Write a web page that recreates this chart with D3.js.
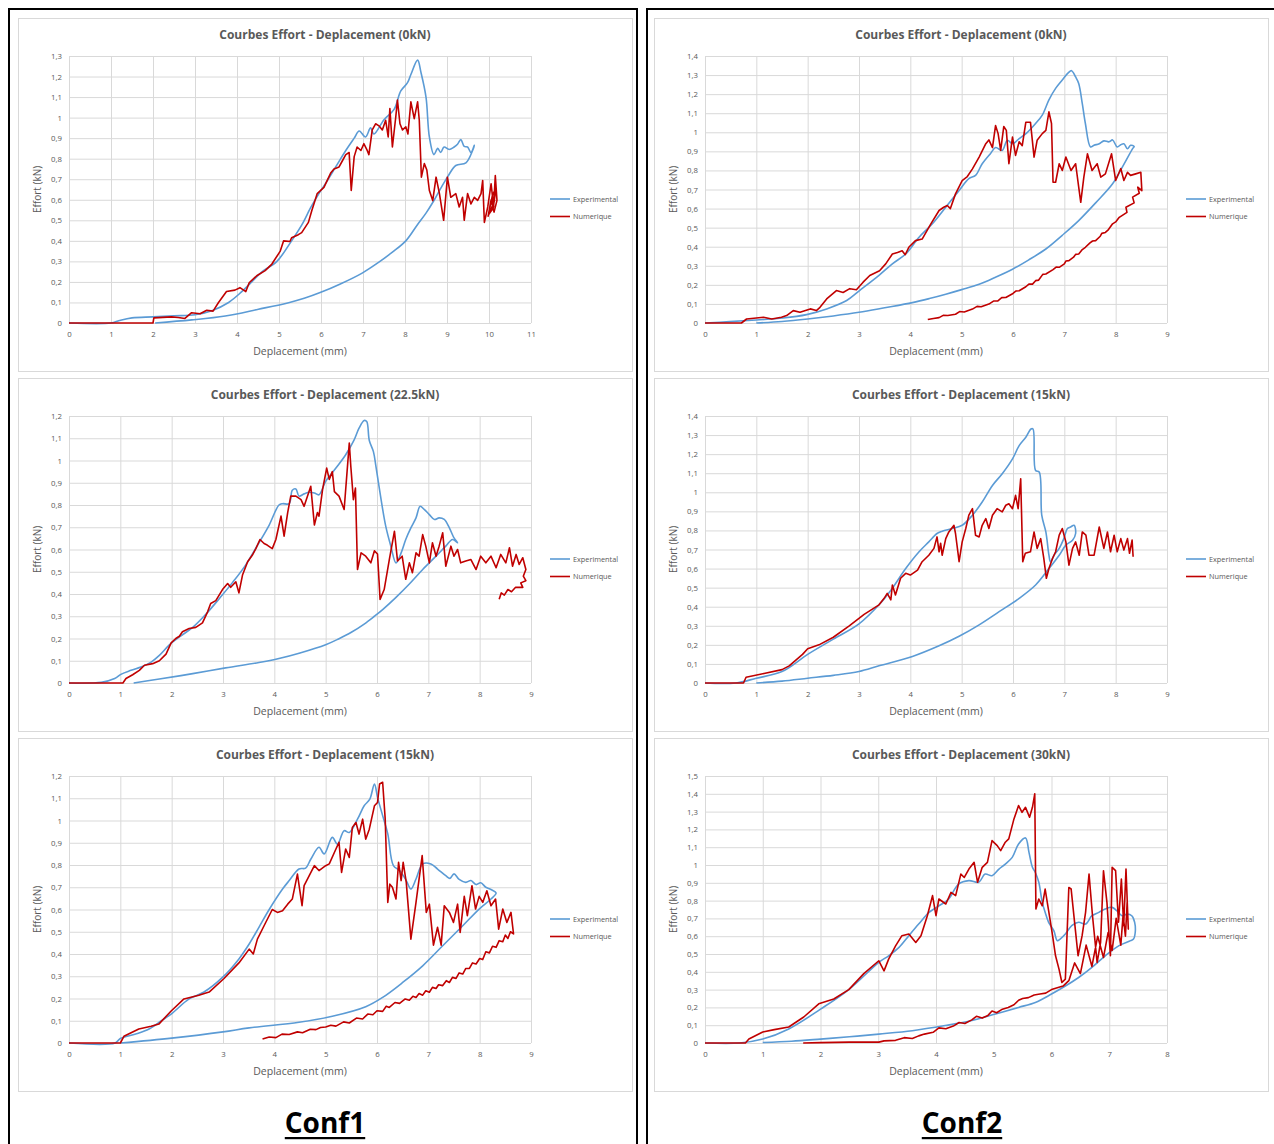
<!DOCTYPE html>
<html>
<head>
<meta charset="UTF-8">
<script src="https://d3js.org/d3.v7.min.js"></script>
<style>
  body { margin: 0; background: #fff; }
  text { font-family: "Open Sans", sans-serif; fill: #595959; }
</style>
</head>
<body>
<svg width="1274" height="1144"></svg>
<script>

// titles, axis ranges
var titles = [
  "Courbes Effort - Deplacement (0kN)",
  "Courbes Effort - Deplacement (22.5kN)",
  "Courbes Effort - Deplacement (15kN)",
  "Courbes Effort - Deplacement (0kN)",
  "Courbes Effort - Deplacement (15kN)",
  "Courbes Effort - Deplacement (30kN)"
];
var xMaxes = [11, 9, 9, 9, 9, 8];
var yMaxes = [1.3, 1.2, 1.2, 1.4, 1.4, 1.5];
var seriesNames = ["Experimental", "Numerique"];
var confLabels = ["Conf1", "Conf2"];

// Conf1 - 0kN
var c1_0_exp = [[0,0],[1.0,0],[1.2,0.012],[1.5,0.025],[2.0,0.03],[2.5,0.035],[3.0,0.04],[3.4,0.06],[3.8,0.1],[4.1,0.15],[4.35,0.2],[4.6,0.25],[4.95,0.3],[5.3,0.4],[5.55,0.48],[5.75,0.56],[5.95,0.63],[6.11,0.68],[6.35,0.76],[6.59,0.84],[6.79,0.9],[6.91,0.935],[7.06,0.906],[7.18,0.95],[7.26,0.92],[7.5,0.99],[7.74,1.04],[7.9,1.13],[8.06,1.17],[8.14,1.21],[8.3,1.28],[8.38,1.22],[8.5,1.1],[8.58,0.906],[8.69,0.82],[8.78,0.85],[8.85,0.83],[8.93,0.857],[9.05,0.845],[9.17,0.857],[9.25,0.87],[9.33,0.893],[9.41,0.86],[9.49,0.857],[9.57,0.83],[9.65,0.865],[9.61,0.84],[9.45,0.78],[9.21,0.767],[9.01,0.71],[8.85,0.655],[8.7,0.6],[8.5,0.535],[8.3,0.48],[8.02,0.4],[7.7,0.345],[7.37,0.295],[6.98,0.243],[6.46,0.19],[5.98,0.148],[5.6,0.12],[5.23,0.099],[4.51,0.067],[3.72,0.034],[2.92,0.015],[2.05,0]];
var c1_0_num = [[0,0],[2.0,0],[2.02,0.025],[2.13,0.026],[2.44,0.03],[2.6,0.027],[2.76,0.022],[2.92,0.05],[3.12,0.045],[3.28,0.062],[3.43,0.058],[3.56,0.1],[3.75,0.153],[3.95,0.16],[4.07,0.172],[4.21,0.153],[4.29,0.196],[4.47,0.23],[4.67,0.255],[4.83,0.287],[5.03,0.35],[5.11,0.4],[5.26,0.397],[5.3,0.415],[5.46,0.43],[5.54,0.44],[5.7,0.49],[5.78,0.547],[5.91,0.63],[6.07,0.66],[6.23,0.73],[6.31,0.75],[6.43,0.76],[6.51,0.79],[6.59,0.82],[6.67,0.83],[6.72,0.645],[6.79,0.81],[6.86,0.857],[6.95,0.84],[7.02,0.873],[7.1,0.84],[7.14,0.82],[7.22,0.94],[7.3,0.97],[7.38,0.96],[7.46,0.94],[7.54,0.987],[7.6,0.906],[7.64,1.044],[7.7,0.857],[7.78,1.003],[7.82,1.085],[7.88,0.97],[7.94,0.94],[8.02,0.955],[8.07,0.92],[8.14,1.077],[8.22,0.995],[8.3,1.077],[8.34,0.987],[8.39,0.71],[8.46,0.776],[8.52,0.745],[8.58,0.645],[8.66,0.596],[8.74,0.71],[8.82,0.63],[8.92,0.5],[9.01,0.71],[9.09,0.612],[9.21,0.63],[9.29,0.565],[9.37,0.612],[9.41,0.5],[9.49,0.63],[9.57,0.58],[9.65,0.612],[9.73,0.597],[9.81,0.63],[9.85,0.694],[9.89,0.49],[9.97,0.565],[10.05,0.678],[10.11,0.565],[10.15,0.718],[10.19,0.597],[10.12,0.54],[10.05,0.6],[9.98,0.52],[10.08,0.62],[10.17,0.66],[10.1,0.56],[10.0,0.53],[10.14,0.6]];

// Conf1 - 22.5kN
var c1_225_exp = [[0,0],[0.63,0.003],[0.89,0.02],[1.02,0.04],[1.21,0.057],[1.4,0.072],[1.6,0.094],[1.76,0.124],[1.95,0.17],[2.15,0.207],[2.41,0.25],[2.67,0.31],[2.93,0.38],[3.18,0.45],[3.44,0.53],[3.7,0.63],[3.9,0.71],[4.09,0.8],[4.16,0.806],[4.29,0.806],[4.35,0.866],[4.42,0.872],[4.48,0.84],[4.58,0.85],[4.68,0.857],[4.78,0.854],[4.87,0.846],[5.0,0.906],[5.2,0.966],[5.39,1.026],[5.55,1.09],[5.65,1.145],[5.75,1.18],[5.8,1.175],[5.85,1.09],[5.93,1.04],[5.98,0.973],[6.08,0.824],[6.17,0.705],[6.27,0.615],[6.37,0.54],[6.47,0.585],[6.56,0.645],[6.66,0.697],[6.76,0.742],[6.84,0.794],[6.92,0.78],[7.02,0.757],[7.12,0.735],[7.21,0.742],[7.31,0.735],[7.41,0.697],[7.5,0.652],[7.57,0.63],[7.47,0.645],[7.34,0.615],[7.15,0.57],[6.89,0.51],[6.63,0.445],[6.37,0.385],[6.11,0.33],[5.95,0.3],[5.75,0.265],[5.5,0.228],[5.25,0.198],[5.0,0.172],[4.5,0.135],[4.09,0.11],[3.7,0.092],[3.05,0.068],[2.41,0.042],[1.76,0.018],[1.26,0]];
var c1_225_num = [[0,0],[1.05,0],[1.11,0.02],[1.24,0.037],[1.37,0.057],[1.47,0.08],[1.63,0.087],[1.76,0.1],[1.89,0.13],[1.99,0.18],[2.08,0.2],[2.15,0.21],[2.21,0.23],[2.34,0.245],[2.47,0.25],[2.6,0.27],[2.7,0.32],[2.76,0.357],[2.86,0.37],[2.99,0.42],[3.09,0.447],[3.15,0.43],[3.25,0.455],[3.31,0.405],[3.38,0.485],[3.48,0.545],[3.57,0.574],[3.64,0.604],[3.72,0.645],[3.8,0.627],[3.86,0.62],[3.96,0.604],[4.03,0.645],[4.13,0.75],[4.19,0.66],[4.26,0.766],[4.32,0.84],[4.42,0.84],[4.52,0.824],[4.58,0.794],[4.71,0.884],[4.78,0.71],[4.84,0.766],[4.87,0.75],[4.94,0.87],[5.02,0.966],[5.07,0.915],[5.13,0.95],[5.17,0.86],[5.26,0.84],[5.36,0.78],[5.46,1.078],[5.49,0.973],[5.54,0.824],[5.58,0.876],[5.62,0.51],[5.69,0.585],[5.78,0.57],[5.88,0.54],[5.95,0.594],[6.01,0.58],[6.06,0.376],[6.14,0.42],[6.24,0.555],[6.34,0.682],[6.4,0.548],[6.49,0.57],[6.56,0.466],[6.63,0.54],[6.69,0.496],[6.76,0.585],[6.82,0.57],[6.89,0.667],[6.95,0.615],[7.02,0.54],[7.08,0.63],[7.15,0.57],[7.21,0.615],[7.28,0.675],[7.34,0.525],[7.44,0.615],[7.5,0.57],[7.57,0.6],[7.63,0.54],[7.73,0.548],[7.83,0.555],[7.93,0.51],[8.02,0.57],[8.12,0.54],[8.22,0.57],[8.32,0.518],[8.41,0.578],[8.51,0.54],[8.58,0.608],[8.64,0.525],[8.71,0.578],[8.77,0.533],[8.84,0.563],[8.9,0.51],[8.85,0.48],[8.9,0.46],[8.8,0.45],[8.84,0.43],[8.7,0.43],[8.62,0.41],[8.55,0.42],[8.48,0.395],[8.42,0.405],[8.38,0.376]];

// Conf1 - 15kN
var c1_15_exp = [[0,0],[0.9,0],[1.0,0.02],[1.3,0.04],[1.56,0.063],[1.8,0.1],[1.99,0.13],[2.34,0.198],[2.63,0.229],[3.0,0.297],[3.31,0.378],[3.51,0.445],[3.7,0.52],[3.9,0.6],[4.16,0.692],[4.29,0.73],[4.48,0.782],[4.61,0.786],[4.71,0.826],[4.87,0.88],[4.97,0.85],[5.13,0.924],[5.23,0.894],[5.36,0.954],[5.46,0.946],[5.62,1.006],[5.75,1.066],[5.86,1.096],[5.95,1.164],[6.01,1.104],[6.11,1.022],[6.21,0.94],[6.32,0.797],[6.44,0.775],[6.57,0.73],[6.66,0.692],[6.76,0.737],[6.89,0.805],[7.05,0.805],[7.18,0.782],[7.34,0.752],[7.42,0.74],[7.5,0.76],[7.6,0.735],[7.73,0.722],[7.83,0.73],[7.93,0.712],[8.02,0.72],[8.12,0.7],[8.22,0.69],[8.32,0.674],[8.22,0.647],[7.99,0.602],[7.67,0.527],[7.28,0.437],[6.89,0.347],[6.5,0.272],[6.11,0.205],[5.78,0.163],[5.13,0.12],[4.48,0.093],[3.51,0.068],[3.0,0.05],[2.0,0.022],[1.0,0]];
var c1_15_num = [[0,0],[1.0,0],[1.07,0.03],[1.36,0.063],[1.6,0.075],[1.75,0.085],[1.99,0.144],[2.24,0.198],[2.53,0.215],[2.73,0.229],[3.02,0.29],[3.31,0.36],[3.51,0.422],[3.59,0.4],[3.67,0.467],[3.8,0.527],[3.96,0.6],[4.06,0.587],[4.16,0.594],[4.26,0.624],[4.35,0.647],[4.45,0.759],[4.54,0.617],[4.58,0.707],[4.68,0.752],[4.78,0.797],[4.87,0.775],[5.0,0.797],[5.07,0.805],[5.2,0.872],[5.26,0.902],[5.31,0.767],[5.39,0.872],[5.46,0.834],[5.52,0.969],[5.59,0.991],[5.65,0.939],[5.72,1.006],[5.78,0.916],[5.85,0.961],[5.95,1.066],[6.01,1.081],[6.05,1.164],[6.11,1.172],[6.16,1.006],[6.21,0.632],[6.25,0.714],[6.3,0.7],[6.37,0.647],[6.42,0.812],[6.47,0.73],[6.51,0.812],[6.57,0.722],[6.66,0.467],[6.76,0.632],[6.88,0.842],[6.96,0.587],[7.02,0.624],[7.1,0.44],[7.18,0.52],[7.25,0.44],[7.31,0.617],[7.41,0.587],[7.49,0.542],[7.57,0.624],[7.62,0.497],[7.7,0.659],[7.76,0.572],[7.85,0.707],[7.92,0.602],[7.99,0.659],[8.06,0.632],[8.14,0.684],[8.22,0.617],[8.31,0.647],[8.37,0.512],[8.45,0.602],[8.53,0.542],[8.61,0.587],[8.66,0.49],[8.6,0.5],[8.55,0.47],[8.5,0.485],[8.45,0.455],[8.38,0.46],[8.32,0.43],[8.25,0.435],[8.19,0.405],[8.12,0.41],[8.06,0.375],[8.0,0.38],[7.93,0.355],[7.86,0.36],[7.8,0.335],[7.73,0.335],[7.67,0.31],[7.6,0.315],[7.54,0.29],[7.47,0.295],[7.41,0.272],[7.35,0.28],[7.28,0.258],[7.2,0.262],[7.15,0.245],[7.08,0.25],[7.02,0.228],[6.95,0.235],[6.89,0.215],[6.82,0.222],[6.76,0.205],[6.7,0.21],[6.63,0.192],[6.55,0.198],[6.44,0.178],[6.35,0.182],[6.24,0.16],[6.18,0.165],[6.11,0.142],[6.0,0.145],[5.92,0.127],[5.82,0.13],[5.72,0.108],[5.6,0.112],[5.46,0.09],[5.35,0.095],[5.2,0.076],[5.1,0.08],[5.0,0.072],[4.9,0.07],[4.81,0.06],[4.7,0.062],[4.55,0.046],[4.45,0.05],[4.29,0.038],[4.15,0.04],[4.03,0.024],[3.9,0.027],[3.77,0.018]];

// Conf2 - 0kN
var c2_0_exp = [[0,0],[0.48,0.007],[1.0,0.016],[1.52,0.026],[1.98,0.044],[2.37,0.074],[2.76,0.118],[3.01,0.17],[3.39,0.25],[3.65,0.31],[3.91,0.362],[4.17,0.45],[4.43,0.52],[4.69,0.607],[4.95,0.695],[5.14,0.757],[5.27,0.774],[5.4,0.835],[5.56,0.888],[5.66,0.92],[5.79,0.905],[5.89,0.958],[5.99,0.94],[6.12,0.967],[6.28,1.0],[6.44,1.046],[6.57,1.09],[6.7,1.17],[6.83,1.23],[6.96,1.274],[7.08,1.313],[7.14,1.323],[7.22,1.29],[7.28,1.256],[7.35,1.15],[7.41,1.046],[7.51,0.923],[7.58,0.932],[7.68,0.94],[7.77,0.955],[7.87,0.95],[7.94,0.96],[8.03,0.923],[8.1,0.935],[8.16,0.94],[8.23,0.914],[8.29,0.932],[8.36,0.926],[8.33,0.914],[8.13,0.817],[7.94,0.73],[7.61,0.63],[7.28,0.537],[6.96,0.46],[6.64,0.388],[6.3,0.33],[5.99,0.282],[5.66,0.24],[5.34,0.203],[5.0,0.175],[4.69,0.151],[4.37,0.128],[4.04,0.107],[3.5,0.08],[3.0,0.056],[2.5,0.037],[2.0,0.021],[1.5,0.008],[1.0,0]];
var c2_0_num = [[0,0],[0.71,0],[0.81,0.021],[1.0,0.026],[1.14,0.03],[1.3,0.021],[1.49,0.03],[1.59,0.039],[1.72,0.065],[1.85,0.056],[2.05,0.074],[2.17,0.065],[2.24,0.082],[2.37,0.126],[2.56,0.17],[2.69,0.16],[2.82,0.18],[2.95,0.174],[3.08,0.214],[3.21,0.249],[3.4,0.274],[3.52,0.31],[3.65,0.362],[3.75,0.37],[3.84,0.379],[3.9,0.358],[3.97,0.397],[4.1,0.432],[4.23,0.44],[4.4,0.52],[4.56,0.59],[4.65,0.607],[4.72,0.616],[4.78,0.6],[4.88,0.677],[5.01,0.747],[5.11,0.768],[5.21,0.808],[5.34,0.87],[5.47,0.94],[5.53,0.96],[5.6,0.92],[5.66,1.035],[5.71,0.993],[5.76,0.905],[5.82,1.03],[5.87,1.01],[5.92,0.835],[5.99,0.975],[6.05,0.879],[6.12,0.95],[6.18,0.93],[6.25,1.053],[6.34,1.053],[6.41,0.87],[6.47,0.958],[6.57,0.993],[6.64,1.01],[6.7,1.107],[6.75,1.046],[6.78,0.738],[6.83,0.738],[6.9,0.835],[6.96,0.8],[7.03,0.87],[7.13,0.8],[7.22,0.835],[7.28,0.712],[7.32,0.633],[7.38,0.765],[7.45,0.887],[7.54,0.8],[7.64,0.835],[7.71,0.765],[7.8,0.782],[7.92,0.887],[8.0,0.747],[8.1,0.81],[8.16,0.747],[8.23,0.79],[8.29,0.774],[8.39,0.782],[8.49,0.79],[8.51,0.694],[8.43,0.712],[8.46,0.68],[8.33,0.66],[8.36,0.63],[8.2,0.607],[8.22,0.58],[8.07,0.554],[8.0,0.53],[7.94,0.52],[7.86,0.49],[7.8,0.475],[7.73,0.47],[7.7,0.455],[7.61,0.432],[7.55,0.43],[7.5,0.42],[7.41,0.397],[7.35,0.385],[7.28,0.362],[7.22,0.36],[7.18,0.345],[7.09,0.327],[7.03,0.325],[7.0,0.31],[6.9,0.292],[6.84,0.293],[6.78,0.28],[6.64,0.257],[6.58,0.255],[6.5,0.225],[6.44,0.222],[6.38,0.204],[6.31,0.204],[6.25,0.19],[6.12,0.169],[6.06,0.168],[6.0,0.155],[5.86,0.134],[5.78,0.133],[5.7,0.115],[5.62,0.115],[5.53,0.099],[5.38,0.085],[5.3,0.087],[5.21,0.073],[5.05,0.058],[4.96,0.06],[4.88,0.046],[4.73,0.039],[4.64,0.04],[4.56,0.028],[4.45,0.024],[4.34,0.018]];

// Conf2 - 15kN
var c2_15_exp = [[0,0],[0.6,0],[1.0,0.025],[1.5,0.06],[2.0,0.15],[2.5,0.23],[3.0,0.31],[3.39,0.41],[3.65,0.497],[3.91,0.6],[4.17,0.688],[4.36,0.74],[4.52,0.784],[4.62,0.796],[4.82,0.81],[5.01,0.827],[5.21,0.88],[5.4,0.949],[5.6,1.036],[5.79,1.097],[5.99,1.175],[6.12,1.245],[6.25,1.289],[6.35,1.332],[6.39,1.332],[6.44,1.114],[6.51,1.106],[6.56,0.88],[6.64,0.792],[6.7,0.67],[6.73,0.635],[6.8,0.67],[6.9,0.706],[6.99,0.757],[7.06,0.81],[7.12,0.818],[7.19,0.827],[7.22,0.784],[7.16,0.749],[7.03,0.723],[6.9,0.67],[6.7,0.6],[6.44,0.514],[6.12,0.444],[5.73,0.374],[5.34,0.305],[4.95,0.245],[4.56,0.195],[4.04,0.139],[3.39,0.09],[3.0,0.06],[2.5,0.04],[2.0,0.025],[1.5,0.01],[1.0,0]];
var c2_15_num = [[0,0],[0.75,0],[0.8,0.03],[1.15,0.05],[1.5,0.07],[1.64,0.09],[1.9,0.15],[2.0,0.18],[2.22,0.2],[2.5,0.24],[2.81,0.3],[3.1,0.36],[3.39,0.41],[3.49,0.444],[3.55,0.47],[3.62,0.436],[3.65,0.514],[3.71,0.462],[3.81,0.549],[3.91,0.575],[4.0,0.566],[4.14,0.592],[4.23,0.636],[4.36,0.67],[4.46,0.706],[4.52,0.766],[4.56,0.688],[4.59,0.733],[4.62,0.67],[4.69,0.757],[4.75,0.792],[4.85,0.827],[4.88,0.784],[4.95,0.636],[5.01,0.74],[5.08,0.81],[5.14,0.88],[5.21,0.914],[5.27,0.775],[5.34,0.766],[5.4,0.827],[5.47,0.862],[5.53,0.81],[5.6,0.88],[5.69,0.914],[5.79,0.897],[5.86,0.932],[5.92,0.94],[5.99,0.914],[6.05,0.984],[6.1,0.914],[6.15,1.071],[6.19,0.636],[6.24,0.68],[6.34,0.688],[6.41,0.792],[6.47,0.706],[6.54,0.757],[6.6,0.653],[6.65,0.549],[6.7,0.6],[6.77,0.653],[6.83,0.688],[6.9,0.775],[6.96,0.81],[7.03,0.74],[7.09,0.618],[7.16,0.706],[7.22,0.74],[7.29,0.67],[7.35,0.792],[7.42,0.775],[7.48,0.67],[7.58,0.67],[7.68,0.818],[7.77,0.706],[7.84,0.792],[7.9,0.688],[7.97,0.775],[8.03,0.688],[8.1,0.757],[8.16,0.697],[8.23,0.757],[8.27,0.68],[8.32,0.749],[8.34,0.662]];

// Conf2 - 30kN
var c2_30_exp = [[0,0],[0.6,0],[1.0,0.022],[1.45,0.079],[2.0,0.19],[2.49,0.3],[3.01,0.453],[3.18,0.49],[3.36,0.537],[3.53,0.603],[3.7,0.668],[3.88,0.734],[4.05,0.77],[4.22,0.809],[4.39,0.893],[4.57,0.912],[4.74,0.903],[4.85,0.949],[4.97,0.94],[5.09,0.977],[5.2,1.005],[5.32,1.043],[5.43,1.118],[5.55,1.152],[5.61,1.071],[5.67,0.987],[5.72,0.958],[5.78,0.903],[5.84,0.79],[5.89,0.734],[5.95,0.678],[6.04,0.631],[6.1,0.575],[6.15,0.584],[6.24,0.612],[6.35,0.659],[6.47,0.678],[6.59,0.668],[6.7,0.715],[6.82,0.734],[6.93,0.753],[7.05,0.762],[7.13,0.743],[7.22,0.715],[7.31,0.724],[7.39,0.715],[7.44,0.678],[7.45,0.622],[7.42,0.584],[7.37,0.575],[7.17,0.547],[6.93,0.49],[6.7,0.425],[6.47,0.368],[6.24,0.32],[6.0,0.275],[5.72,0.228],[5.43,0.2],[5.03,0.163],[4.62,0.126],[4.16,0.098],[3.59,0.069],[3.01,0.05],[2.5,0.035],[2.0,0.022],[1.5,0.01],[1.0,0.003]];
var c2_30_num = [[0,0],[0.7,0],[0.76,0.022],[1.0,0.062],[1.2,0.075],[1.45,0.09],[1.71,0.146],[1.97,0.22],[2.23,0.247],[2.49,0.3],[2.75,0.39],[3.01,0.462],[3.1,0.405],[3.18,0.471],[3.3,0.546],[3.41,0.603],[3.53,0.612],[3.65,0.565],[3.74,0.603],[3.85,0.715],[3.94,0.828],[4.0,0.715],[4.05,0.809],[4.17,0.781],[4.26,0.846],[4.34,0.828],[4.43,0.949],[4.49,0.93],[4.57,0.977],[4.66,1.015],[4.72,0.903],[4.8,0.987],[4.89,1.015],[4.97,1.137],[5.06,1.109],[5.12,1.081],[5.2,1.128],[5.26,1.147],[5.35,1.259],[5.43,1.334],[5.49,1.296],[5.55,1.324],[5.62,1.268],[5.67,1.324],[5.71,1.4],[5.73,0.753],[5.78,0.809],[5.84,0.771],[5.89,0.865],[5.95,0.743],[6.01,0.621],[6.07,0.49],[6.13,0.415],[6.18,0.34],[6.24,0.359],[6.3,0.874],[6.34,0.865],[6.4,0.678],[6.46,0.49],[6.53,0.603],[6.59,0.734],[6.65,0.949],[6.71,0.715],[6.79,0.452],[6.85,0.565],[6.9,0.968],[6.96,0.79],[7.02,0.49],[7.05,0.987],[7.11,0.968],[7.16,0.678],[7.21,0.921],[7.25,0.659],[7.29,0.977],[7.33,0.64],[7.31,0.79],[7.28,0.6],[7.24,0.72],[7.2,0.55],[7.12,0.7],[7.05,0.52],[6.98,0.62],[6.9,0.48],[6.8,0.6],[6.7,0.43],[6.6,0.55],[6.5,0.39],[6.4,0.45],[6.3,0.35],[6.2,0.32],[6.1,0.31],[6.0,0.3],[5.9,0.28],[5.8,0.275],[5.7,0.27],[5.6,0.255],[5.5,0.25],[5.43,0.24],[5.35,0.215],[5.25,0.2],[5.15,0.19],[5.05,0.17],[4.97,0.18],[4.9,0.155],[4.8,0.14],[4.7,0.15],[4.62,0.13],[4.5,0.11],[4.4,0.115],[4.3,0.095],[4.17,0.08],[4.05,0.085],[3.95,0.06],[3.8,0.05],[3.7,0.04],[3.59,0.025],[3.45,0.03],[3.3,0.015],[3.1,0.012],[3.01,0.005],[2.5,0.005],[2.0,0.002],[1.7,0]];

var expSeries = [c1_0_exp, c1_225_exp, c1_15_exp, c2_0_exp, c2_15_exp, c2_30_exp];
var numSeries = [c1_0_num, c1_225_num, c1_15_num, c2_0_num, c2_15_num, c2_30_num];

var colors = {exp: "#5B9BD5", num: "#C00000"};

// layout
const panelW = 614, panelH = 353;
const colX = [18, 654];
const rowY = [18, 378, 738];
const plotL = 51, plotR = 513, plotT = 38, plotB = 305;

var svg = d3.select("svg");

// black outer boxes
svg.append("rect").attr("x", 9).attr("y", 9).attr("width", 628).attr("height", 1150)
  .attr("fill", "none").attr("stroke", "#000").attr("stroke-width", 2);
svg.append("rect").attr("x", 647).attr("y", 9).attr("width", 660).attr("height", 1150)
  .attr("fill", "none").attr("stroke", "#000").attr("stroke-width", 2);

function fmtY(v) {
  return String(Math.round(v * 10) / 10).replace(".", ",");
}

for (var i = 0; i < 6; i++) {
  var col = Math.floor(i / 3), row = i % 3;
  var g = svg.append("g").attr("transform", "translate(" + colX[col] + "," + rowY[row] + ")");

  g.append("rect").attr("x", 0.5).attr("y", 0.5).attr("width", panelW).attr("height", panelH)
    .attr("fill", "#fff").attr("stroke", "#d9d9d9").attr("stroke-width", 1);

  var x = d3.scaleLinear().domain([0, xMaxes[i]]).range([plotL, plotR]);
  var y = d3.scaleLinear().domain([0, yMaxes[i]]).range([plotB, plotT]);

  var yTicks = d3.range(0, Math.round(yMaxes[i] * 10) + 1).map(function(k) { return k / 10; });
  var xTicks = d3.range(0, xMaxes[i] + 1);

  // horizontal grid + y labels
  var ya = g.append("g").attr("transform", "translate(" + plotL + ",0)")
    .call(d3.axisLeft(y).tickValues(yTicks).tickFormat(fmtY).tickSize(-(plotR - plotL)).tickPadding(7));
  ya.select(".domain").remove();
  ya.selectAll("line").attr("stroke", "#d9d9d9");
  ya.selectAll("text").attr("font-size", "7.8px").attr("fill", "#595959").style("font-family", "'Open Sans', sans-serif");

  // vertical grid + x labels
  var xa = g.append("g").attr("transform", "translate(0," + plotB + ")")
    .call(d3.axisBottom(x).tickValues(xTicks).tickFormat(d3.format("d")).tickSize(-(plotB - plotT)).tickPadding(8));
  xa.select(".domain").remove();
  xa.selectAll("line").attr("stroke", "#d9d9d9");
  xa.selectAll("text").attr("font-size", "7.8px").attr("fill", "#595959").style("font-family", "'Open Sans', sans-serif");

  // title
  g.append("text").attr("x", panelW / 2).attr("y", 21).attr("text-anchor", "middle")
    .attr("font-size", "12px").attr("font-weight", "bold").text(titles[i]);

  // axis titles
  g.append("text").attr("x", (plotL + plotR) / 2).attr("y", 337).attr("text-anchor", "middle")
    .attr("font-size", "10.5px").text("Deplacement (mm)");
  g.append("text").attr("transform", "translate(23," + ((plotT + plotB) / 2) + ") rotate(-90)")
    .attr("text-anchor", "middle").attr("font-size", "10px").text("Effort (kN)");

  // smooth curve for measured data, straight segments for the noisy simulation
  var lineExp = d3.line().curve(d3.curveCatmullRom.alpha(0.5))
    .x(function(d) { return x(d[0]); }).y(function(d) { return y(d[1]); });
  var lineNum = d3.line()
    .x(function(d) { return x(d[0]); }).y(function(d) { return y(d[1]); });

  g.append("path").datum(expSeries[i]).attr("d", lineExp)
    .attr("fill", "none").attr("stroke", colors.exp).attr("stroke-width", 1.6).attr("stroke-linejoin", "round");
  g.append("path").datum(numSeries[i]).attr("d", lineNum)
    .attr("fill", "none").attr("stroke", colors.num).attr("stroke-width", 1.6).attr("stroke-linejoin", "round");

  // legend
  var lg = g.append("g").attr("transform", "translate(532,181)");
  [colors.exp, colors.num].forEach(function(c, k) {
    lg.append("line").attr("x1", 0).attr("x2", 20).attr("y1", k * 17.5).attr("y2", k * 17.5)
      .attr("stroke", c).attr("stroke-width", 1.6);
    lg.append("text").attr("x", 23).attr("y", k * 17.5).attr("dy", "0.35em")
      .attr("font-size", "7.3px").text(seriesNames[k]);
  });
}

// Conf labels
[325, 962].forEach(function(cx, k) {
  var t = svg.append("text").attr("x", cx).attr("y", 1133).attr("text-anchor", "middle")
    .attr("font-size", "28px").attr("font-weight", "bold").style("fill", "#000").text(confLabels[k]);
  var bb = t.node().getBBox();
  svg.append("rect").attr("x", bb.x).attr("y", 1137).attr("width", bb.width).attr("height", 2.2).attr("fill", "#000");
});

</script>
</body>
</html>
